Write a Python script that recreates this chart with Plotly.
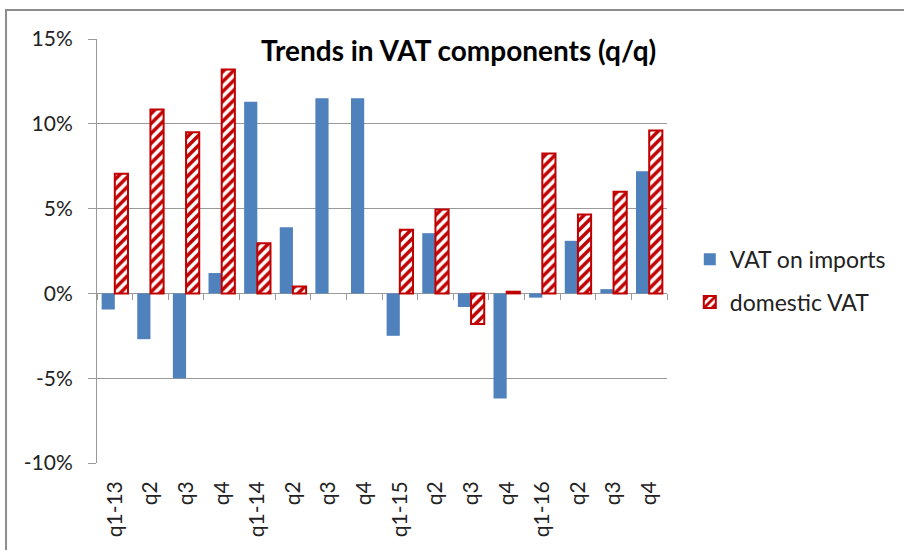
import plotly.graph_objects as go

categories = ["q1-13", "q2", "q3", "q4", "q1-14", "q2 ", "q3 ", "q4 ",
              "q1-15", "q2  ", "q3  ", "q4  ", "q1-16", "q2   ", "q3   ", "q4   "]
tick_labels = ["q1-13", "q2", "q3", "q4", "q1-14", "q2", "q3", "q4",
               "q1-15", "q2", "q3", "q4", "q1-16", "q2", "q3", "q4"]
vat_imports = [-0.95, -2.7, -5.0, 1.2, 11.3, 3.9, 11.5, 11.5,
               -2.5, 3.55, -0.8, -6.2, -0.25, 3.1, 0.25, 7.2]
domestic_vat = [7.05, 10.85, 9.5, 13.2, 2.95, 0.4, None, None,
                3.75, 4.95, -1.8, 0.1, 8.25, 4.65, 6.0, 9.6]
y_ticks = [-10, -5, 0, 5, 10, 15]
y_tick_text = ["-10%", "-5%", "0%", "5%", "10%", "15%"]

FONT = "Lato, 'Open Sans', sans-serif"
BLUE = "#4F81BD"
RED = "#C00000"
GRID = "#9A9A9A"

fig = go.Figure()
fig.add_trace(go.Bar(
    x=categories, y=vat_imports, name="VAT on imports",
    marker=dict(color=BLUE, line=dict(width=0)),
    legendgroup="a",
))
fig.add_trace(go.Bar(
    x=categories, y=domestic_vat, name="domestic VAT",
    marker=dict(color="white", line=dict(color=RED, width=2),
                pattern=dict(shape="/", fgcolor=RED, bgcolor="white",
                             size=7, solidity=0.5, fillmode="replace")),
    legendgroup="b",
))
# invisible helper trace for the tick-only axis at y=0
fig.add_trace(go.Scatter(x=[0], y=[0], xaxis="x2", yaxis="y",
                         mode="markers", marker=dict(opacity=0),
                         showlegend=False, hoverinfo="skip"))

fig.update_layout(
    width=904, height=550,
    margin=dict(l=97, r=237, t=39, b=87),
    paper_bgcolor="white", plot_bgcolor="white",
    font=dict(family=FONT, size=21, color="#222222"),
    barmode="group", bargap=0.26, bargroupgap=0.0,
    showlegend=True,
    legend=dict(x=1.04, y=0.43, xanchor="left", yanchor="middle",
                font=dict(family=FONT, size=23, color="#222222"),
                tracegroupgap=10, traceorder="grouped",
                bgcolor="rgba(0,0,0,0)"),
    xaxis=dict(type="category", categoryorder="array", categoryarray=categories,
               tickvals=categories, ticktext=tick_labels,
               tickangle=-90, showgrid=False, zeroline=False, showline=False,
               ticks="", ticklabelstandoff=13, automargin=False,
               range=[-0.5, 15.5],
               tickfont=dict(family=FONT, size=21, color="#222222")),
    xaxis2=dict(overlaying="x", anchor="free", position=0.4,
                range=[-0.5, 15.5], showgrid=False, zeroline=False,
                showline=False, showticklabels=False,
                tickmode="array", tickvals=[i + 0.5 for i in range(-1, 16)],
                ticks="outside", ticklen=6, tickcolor=GRID, tickwidth=1),
    yaxis=dict(range=[-10, 15], tickvals=y_ticks, ticktext=y_tick_text,
               showgrid=True, gridcolor=GRID, gridwidth=1,
               zeroline=True, zerolinecolor=GRID, zerolinewidth=1,
               showline=True, linecolor=GRID, linewidth=1,
               ticks="outside", ticklen=8, tickcolor=GRID,
               ticklabelstandoff=11, automargin=False,
               tickfont=dict(family=FONT, size=21, color="#222222")),
    annotations=[dict(text="<b>Trends in VAT components (q/q)</b>",
                      xref="paper", yref="paper", x=0.635, y=0.975,
                      xanchor="center", yanchor="middle", showarrow=False,
                      font=dict(family=FONT, size=28, color="#000000"))],
    shapes=[dict(type="rect", xref="paper", yref="paper",
                 x0=-0.1596, x1=1.6, y0=-0.6, y1=1.0684,
                 line=dict(color="#8C8C8C", width=2), fillcolor="rgba(0,0,0,0)",
                 layer="below")],
)

fig.write_html("out.html", config={"displayModeBar": False},
               post_script="document.body.style.margin='0';document.body.style.overflow='hidden';")
